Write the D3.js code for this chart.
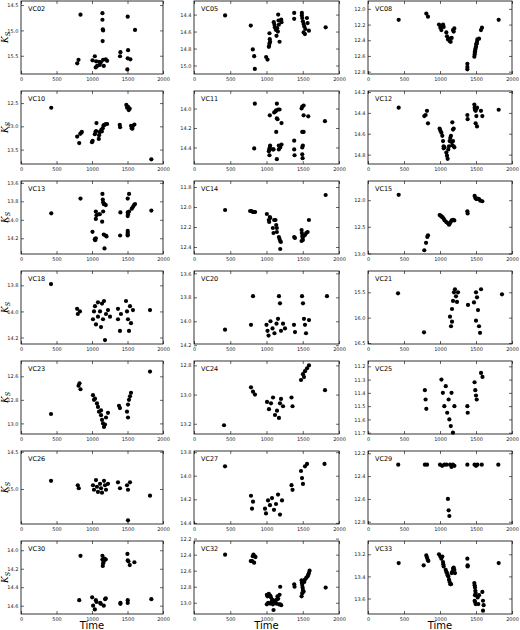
<!DOCTYPE html>
<html><head><meta charset="utf-8">
<script src="https://cdn.jsdelivr.net/npm/d3@7/dist/d3.min.js"></script>
<style>body{margin:0;background:#fff}svg{display:block}</style>
</head><body>
<svg id="chart" width="520" height="630"></svg>
<script>
const panelNames = ["VC02","VC05","VC08","VC10","VC11","VC12","VC13","VC14","VC15","VC18","VC20","VC21","VC23","VC24","VC25","VC26","VC27","VC29","VC30","VC32","VC33"];
const yDomains = [[14.42,15.86],[14.24,15.10],[11.90,12.83],[12.24,13.81],[13.82,14.57],[14.19,14.89],[13.58,14.37],[11.74,12.47],[11.64,13.01],
  [13.69,14.25],[13.58,14.19],[15.08,16.52],[12.47,13.09],[12.77,13.27],[11.16,11.71],[14.49,15.47],[13.79,14.41],[12.18,12.82],[13.90,14.69],[12.23,13.14],[13.08,13.74]];
const yTicks = [[14.5,15.0,15.5],[14.4,14.6,14.8,15.0],[12.0,12.2,12.4,12.6,12.8],[12.5,13.0,13.5],[14.0,14.2,14.4],[14.2,14.4,14.6,14.8],[13.6,13.8,14.0,14.2],[11.8,12.0,12.2,12.4],[12.0,12.5,13.0],
  [13.8,14.0,14.2],[13.6,13.8,14.0,14.2],[15.5,16.0,16.5],[12.6,12.8,13.0],[12.8,13.0,13.2],[11.2,11.3,11.4,11.5,11.6,11.7],[14.5,15.0],[13.8,14.0,14.2,14.4],[12.2,12.4,12.6,12.8],[14.0,14.2,14.4,14.6],[12.2,12.4,12.6,12.8,13.0],[13.2,13.4,13.6]];
const xTicks = [0,500,1000,1500,2000];

const vc02 = [[838,14.69],[1147,14.66],[1147,14.79],[1152,14.98],[1157,15.0],[1150,15.21],[1503,14.73],[1606,14.99],[1400,15.43],[1395,15.51],[1508,15.39],[1503,15.55],[1540,15.57],[1498,15.77],[1040,15.51],[1007,15.59],[1058,15.61],[1072,15.70],[1052,15.73],[1110,15.68],[1124,15.63],[1157,15.58],[1194,15.57],[1213,15.60],[1166,15.70],[810,15.58],[792,15.65],[1100,15.62]];
const vc05 = [[429,14.41],[783,14.53],[811,14.81],[830,14.89],[839,15.04],[995,14.90],[1014,14.93],[1041,14.62],[1045,14.69],[1050,14.72],[1041,14.74],[1036,14.77],[1032,14.78],[1100,14.49],[1110,14.52],[1115,14.55],[1129,14.58],[1147,14.56],[1157,14.60],[1166,14.47],[1170,14.52],[1138,14.65],[1161,14.40],[1203,14.46],[1207,14.49],[1180,14.72],[1382,14.38],[1382,14.45],[1488,14.38],[1488,14.41],[1493,14.44],[1502,14.48],[1512,14.51],[1521,14.54],[1512,14.61],[1530,14.63],[1535,14.57],[1558,14.44],[1567,14.50],[1585,14.59],[1816,14.55]];
const vc08 = [[426,12.14],[810,12.06],[833,12.10],[986,12.20],[1005,12.24],[1019,12.27],[1032,12.22],[1042,12.20],[1051,12.23],[1088,12.30],[1097,12.35],[1111,12.39],[1134,12.41],[1148,12.42],[1125,12.38],[1162,12.37],[1181,12.27],[1190,12.29],[1199,12.25],[1380,12.70],[1380,12.74],[1380,12.77],[1481,12.58],[1486,12.54],[1495,12.50],[1505,12.45],[1514,12.42],[1519,12.39],[1477,12.61],[1542,12.38],[1569,12.27],[1583,12.24],[1815,12.14],[1484,12.56],[1490,12.52],[1500,12.48],[1509,12.44]];
const vc10 = [[426,12.60],[791,13.22],[820,13.36],[848,13.14],[857,13.12],[834,13.16],[1000,13.34],[1009,13.31],[1063,12.93],[1049,13.12],[1040,13.17],[1058,13.10],[1100,13.19],[1110,13.12],[1096,13.27],[1138,13.11],[1152,13.04],[1162,12.98],[1176,12.97],[1194,12.95],[1213,12.95],[1133,13.07],[1391,12.97],[1396,13.02],[1484,12.54],[1494,12.60],[1508,12.58],[1517,12.65],[1531,12.62],[1550,12.99],[1560,13.04],[1578,12.99],[1597,12.96],[1569,13.05],[1836,13.71]];
const vc11 = [[839,13.95],[830,14.41],[1046,14.07],[1032,14.44],[1037,14.42],[1041,14.48],[1046,14.40],[1050,14.38],[1088,14.42],[1097,14.42],[1106,14.04],[1124,14.03],[1134,14.02],[1143,13.95],[1143,14.10],[1152,14.11],[1134,14.24],[1143,14.52],[1161,14.01],[1180,14.01],[1170,14.38],[1170,14.42],[1189,14.40],[1207,14.15],[1207,14.37],[1382,14.33],[1382,14.42],[1387,14.48],[1484,14.00],[1493,13.98],[1512,13.97],[1512,14.07],[1493,14.40],[1502,14.38],[1493,14.24],[1512,14.24],[1493,14.47],[1498,14.51],[1576,14.08],[1806,14.13]];
const vc12 = [[426,14.35],[782,14.43],[819,14.38],[833,14.50],[800,14.42],[995,14.55],[1005,14.57],[1019,14.59],[1032,14.62],[1042,14.67],[1051,14.72],[1060,14.73],[1051,14.74],[1088,14.78],[1097,14.81],[1106,14.84],[1115,14.75],[1125,14.72],[1134,14.67],[1143,14.64],[1152,14.62],[1162,14.68],[1171,14.71],[1181,14.67],[1190,14.72],[1199,14.73],[1171,14.49],[1181,14.56],[1190,14.55],[1380,14.42],[1384,14.46],[1477,14.32],[1481,14.35],[1486,14.37],[1495,14.38],[1505,14.36],[1514,14.35],[1505,14.43],[1495,14.50],[1514,14.53],[1569,14.38],[1588,14.43],[1815,14.37]];
const vc13 = [[426,13.93],[838,13.77],[1007,14.13],[1040,14.21],[1054,14.20],[1045,14.22],[1054,13.91],[1063,13.95],[1054,13.99],[1096,13.94],[1110,13.94],[1143,14.02],[1147,13.72],[1152,13.78],[1157,13.81],[1166,13.83],[1176,13.83],[1194,13.84],[1157,13.91],[1166,14.16],[1194,14.17],[1204,14.18],[1176,14.31],[1400,13.92],[1396,14.17],[1503,13.77],[1522,13.72],[1503,13.92],[1508,13.94],[1503,13.96],[1503,14.12],[1503,14.14],[1503,14.16],[1503,14.17],[1522,13.91],[1578,13.86],[1592,13.84],[1606,13.83],[1560,13.88],[1836,13.90]];
const vc14 = [[429,12.03],[774,12.04],[793,12.04],[811,12.05],[829,12.05],[843,12.05],[1005,12.07],[1032,12.13],[1037,12.15],[1046,12.10],[1051,12.11],[1088,12.21],[1097,12.26],[1106,12.13],[1124,12.13],[1134,12.18],[1143,12.21],[1143,12.25],[1171,12.30],[1180,12.32],[1189,12.34],[1198,12.35],[1189,12.42],[1382,12.30],[1392,12.31],[1484,12.23],[1488,12.26],[1493,12.29],[1498,12.31],[1502,12.33],[1484,12.34],[1512,12.29],[1530,12.28],[1548,12.26],[1567,12.25],[1585,12.13],[1816,11.88]];
const vc15 = [[426,11.90],[782,12.94],[806,12.80],[824,12.69],[833,12.66],[995,12.28],[1009,12.29],[1023,12.31],[1037,12.32],[1051,12.35],[1065,12.38],[1088,12.41],[1106,12.43],[1125,12.46],[1134,12.44],[1148,12.41],[1162,12.38],[1181,12.37],[1199,12.38],[1380,12.21],[1384,12.25],[1481,11.92],[1491,11.96],[1505,11.98],[1523,11.97],[1542,11.98],[1560,12.01],[1588,12.02]];
const vc18 = [[423,13.79],[790,13.98],[800,14.02],[830,14.0],[1014,14.06],[1028,14.0],[1042,13.96],[1056,14.1],[1084,13.93],[1084,14.04],[1113,14.0],[1127,14.12],[1141,13.94],[1155,14.06],[1183,14.22],[1169,13.92],[1197,14.02],[1225,13.99],[1254,14.04],[1366,13.98],[1366,14.06],[1394,14.15],[1408,14.02],[1479,13.92],[1493,14.0],[1507,14.06],[1521,14.15],[1535,13.96],[1549,14.09],[1577,13.99],[1817,13.99]];
const vc20 = [[428,14.07],[786,14.03],[814,13.79],[1000,14.03],[1014,14.08],[1028,14.12],[1055,14.0],[1083,14.06],[1110,14.1],[1138,14.02],[1172,13.79],[1186,13.85],[1159,13.98],[1200,14.08],[1228,14.02],[1255,14.06],[1379,14.03],[1393,14.09],[1490,13.79],[1503,13.85],[1517,13.98],[1531,14.03],[1545,14.1],[1586,13.99],[1834,13.79]];
const vc21 = [[417,15.52],[778,16.29],[1139,15.98],[1167,15.83],[1181,15.67],[1194,15.5],[1208,15.44],[1222,15.58],[1236,15.69],[1153,16.17],[1167,16.08],[1250,15.5],[1389,15.75],[1472,15.7],[1500,15.5],[1514,15.6],[1528,15.85],[1500,16.06],[1542,16.17],[1556,16.3],[1570,15.44],[1861,15.54]];
const vc23 = [[423,12.92],[810,12.68],[824,12.66],[838,12.71],[1014,12.76],[1028,12.8],[1042,12.79],[1070,12.83],[1084,12.86],[1099,12.9],[1127,12.93],[1141,12.97],[1155,13.0],[1169,13.03],[1183,13.01],[1197,12.95],[1225,12.91],[1127,12.89],[1380,12.85],[1394,12.87],[1493,12.9],[1507,12.84],[1521,12.8],[1535,12.77],[1549,12.74],[1507,12.95],[1817,12.56]];
const vc24 = [[414,13.21],[786,12.95],[814,12.98],[841,13.0],[1007,13.05],[1034,13.1],[1062,13.06],[1090,13.02],[1117,13.14],[1145,13.11],[1172,13.16],[1186,13.06],[1200,13.03],[1228,13.08],[1345,13.02],[1359,13.08],[1476,12.9],[1503,12.86],[1531,12.84],[1559,12.82],[1586,12.8],[1517,12.88],[1807,12.97]];
const vc25 = [[790,11.38],[800,11.45],[810,11.52],[1020,11.3],[1040,11.4],[1060,11.5],[1080,11.35],[1100,11.55],[1120,11.45],[1130,11.6],[1150,11.65],[1160,11.4],[1180,11.7],[1200,11.5],[1380,11.5],[1385,11.55],[1480,11.32],[1490,11.38],[1500,11.42],[1510,11.45],[1570,11.25],[1590,11.28]];
const vc26 = [[423,14.89],[800,14.95],[814,14.99],[1014,14.95],[1028,15.01],[1056,14.88],[1070,14.97],[1084,15.04],[1113,14.93],[1127,14.99],[1141,15.05],[1169,14.89],[1183,14.95],[1197,15.01],[1225,14.93],[1366,14.91],[1394,14.99],[1493,14.95],[1507,15.01],[1535,14.91],[1507,15.42],[1817,15.09]];
const vc27 = [[428,13.92],[786,14.17],[814,14.22],[800,14.28],[979,14.28],[993,14.32],[1021,14.21],[1048,14.25],[1076,14.19],[1103,14.29],[1131,14.24],[1159,14.16],[1186,14.33],[1214,14.21],[1345,14.08],[1359,14.12],[1476,13.96],[1490,14.02],[1503,14.07],[1531,13.92],[1559,13.9],[1800,13.9]];
const vc29 = [[420,12.3],[790,12.3],[820,12.3],[1000,12.3],[1030,12.31],[1060,12.3],[1090,12.3],[1110,12.6],[1120,12.7],[1130,12.75],[1140,12.3],[1160,12.32],[1180,12.3],[1200,12.31],[1380,12.3],[1480,12.3],[1500,12.31],[1520,12.3],[1580,12.3],[1810,12.3]];
const vc30 = [[838,14.06],[820,14.54],[1002,14.51],[1016,14.60],[1040,14.64],[1054,14.54],[1063,14.56],[1115,14.57],[1124,14.58],[1147,14.06],[1147,14.10],[1157,14.14],[1152,14.17],[1166,14.12],[1176,14.09],[1194,14.10],[1166,14.60],[1185,14.53],[1194,14.52],[1400,14.57],[1400,14.58],[1499,14.04],[1503,14.11],[1513,14.12],[1503,14.54],[1503,14.57],[1532,14.16],[1597,14.13],[1836,14.53]];
const vc32 = [[429,12.40],[783,12.48],[811,12.42],[820,12.40],[839,12.42],[848,12.43],[802,12.48],[829,12.50],[1005,12.90],[1014,12.92],[1032,12.89],[1051,12.91],[1060,12.93],[1005,13.02],[1023,13.00],[1051,13.01],[1069,12.99],[1078,12.96],[1088,13.02],[1097,13.09],[1106,12.99],[1124,12.97],[1134,13.01],[1143,12.96],[1152,12.92],[1161,12.95],[1180,12.90],[1171,13.02],[1189,13.02],[1203,13.03],[1189,12.80],[1382,12.77],[1387,12.80],[1484,12.72],[1488,12.75],[1493,12.78],[1498,12.81],[1502,12.84],[1512,12.86],[1493,12.88],[1484,12.92],[1521,12.74],[1530,12.71],[1548,12.69],[1567,12.67],[1576,12.65],[1585,12.63],[1594,12.60],[1816,12.81]];
const vc33 = [[426,13.28],[773,13.30],[810,13.21],[819,13.23],[829,13.25],[838,13.26],[986,13.20],[1005,13.22],[1019,13.24],[1032,13.22],[1042,13.27],[1046,13.29],[1051,13.31],[1079,13.34],[1088,13.36],[1097,13.37],[1106,13.39],[1116,13.40],[1125,13.43],[1134,13.45],[1144,13.47],[1153,13.47],[1162,13.37],[1171,13.36],[1181,13.33],[1190,13.32],[1199,13.34],[1208,13.37],[1380,13.24],[1384,13.30],[1384,13.31],[1477,13.46],[1481,13.48],[1486,13.50],[1491,13.53],[1495,13.55],[1486,13.57],[1481,13.62],[1486,13.63],[1495,13.65],[1523,13.59],[1532,13.65],[1542,13.57],[1588,13.54],[1597,13.62],[1606,13.66],[1597,13.71],[1815,13.28]];

const panelData = [vc02,vc05,vc08,vc10,vc11,vc12,vc13,vc14,vc15,vc18,vc20,vc21,vc23,vc24,vc25,vc26,vc27,vc29,vc30,vc32,vc33];

const colLeft = [21,194,368], colWidth = [142,145,144];
const plotH = 73, rowStep = 90, firstTop = 1;
const font = "DejaVu Sans, sans-serif";
const svg = d3.select("#chart");

panelNames.forEach((name, i) => {
  const r = Math.floor(i / 3), c = i % 3;
  const x0 = colLeft[c], w = colWidth[c], y0 = firstTop + r * rowStep;
  const x = d3.scaleLinear().domain([0, 2000]).range([x0, x0 + w]);
  const y = d3.scaleLinear().domain(yDomains[i]).range([y0, y0 + plotH]);
  const g = svg.append("g");

  const fmtY = d3.format(".1f");
  const styleAxis = sel => {
    sel.select(".domain").remove();
    sel.selectAll("line").attr("stroke", "#000").attr("stroke-width", 0.6);
    sel.selectAll("text").attr("font-family", font).attr("font-size", 5).attr("fill", "#222");
  };
  g.append("g").attr("transform", `translate(0,${y0 + plotH})`)
    .call(d3.axisBottom(x).tickValues(xTicks).tickSize(-3).tickPadding(3).tickFormat(d3.format("d")))
    .call(styleAxis);
  g.append("g").attr("transform", `translate(0,${y0})`)
    .call(d3.axisTop(x).tickValues(xTicks).tickSize(-3).tickFormat(""))
    .call(styleAxis);
  g.append("g").attr("transform", `translate(${x0},0)`)
    .call(d3.axisLeft(y).tickValues(yTicks[i]).tickSize(-3).tickPadding(2.5).tickFormat(fmtY))
    .call(styleAxis);
  g.append("g").attr("transform", `translate(${x0 + w},0)`)
    .call(d3.axisRight(y).tickValues(yTicks[i]).tickSize(-3).tickFormat(""))
    .call(styleAxis);

  g.append("g").selectAll("circle").data(panelData[i]).join("circle")
    .attr("cx", d => x(d[0])).attr("cy", d => y(d[1])).attr("r", 2.1).attr("fill", "#000");

  g.append("rect").attr("x", x0).attr("y", y0).attr("width", w).attr("height", plotH)
    .attr("fill", "none").attr("stroke", "#000").attr("stroke-width", 0.8);

  g.append("text").attr("x", x0 + 7).attr("y", y0 + 9.5).attr("font-family", font)
    .attr("font-size", 6.5).attr("fill", "#000").text(name);

  if (c === 0) {
    const t = g.append("text").attr("transform", `translate(8,${y0 + plotH / 2}) rotate(-90)`)
      .attr("text-anchor", "middle").attr("font-family", "DejaVu Serif, serif").attr("font-style", "italic")
      .attr("font-size", 9).attr("fill", "#000");
    t.append("tspan").text("K");
    t.append("tspan").attr("font-size", 6.5).attr("dy", 2).text("S");
  }
  if (r === 6) {
    g.append("text").attr("x", x0 + w / 2).attr("y", 629).attr("text-anchor", "middle")
      .attr("font-family", font).attr("font-size", 10).attr("fill", "#000").text("Time");
  }
});
</script>
</body></html>
